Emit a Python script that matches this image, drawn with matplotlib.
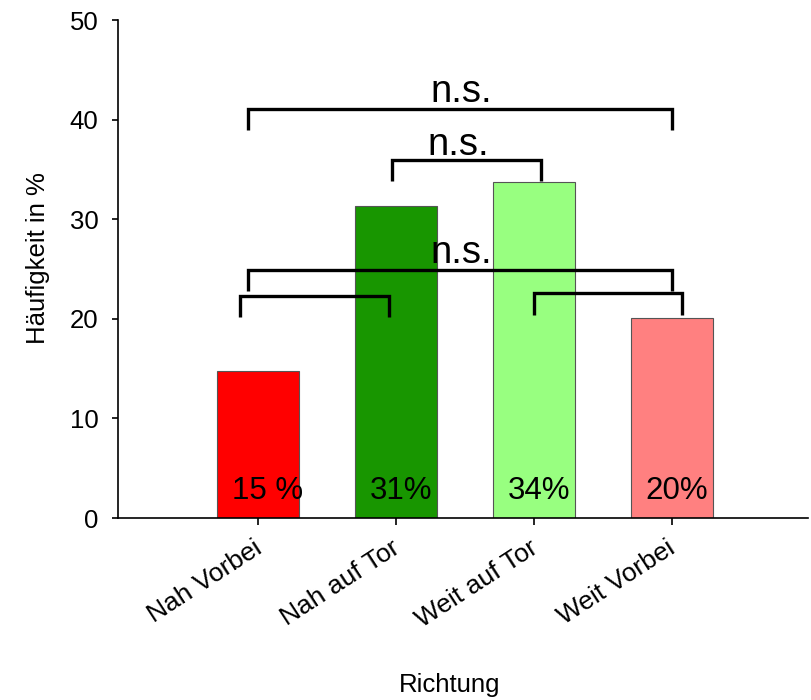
import matplotlib
matplotlib.use("Agg")
import matplotlib.pyplot as plt
from matplotlib.transforms import ScaledTranslation

plt.rcParams['font.family'] = ['Liberation Sans', 'DejaVu Sans']

# --- data ---
categories = ['Nah Vorbei', 'Nah auf Tor', 'Weit auf Tor', 'Weit Vorbei']
values = [14.8, 31.3, 33.7, 20.1]
label_formats = ['{:.0f} %', '{:.0f}%', '{:.0f}%', '{:.0f}%']
bar_colors = ['#ff0000', '#189600', '#98ff80', '#ff8080']

# significance brackets: left x, right x, top y, leg bottom left, leg bottom right
brackets = [
    (-0.07, 3.00, 41.1, 39.0, 39.0),
    (0.97, 2.05, 35.9, 33.8, 33.8),
    (-0.07, 3.00, 24.9, 22.8, 22.8),
    (-0.13, 0.95, 22.3, 20.15, 20.15),
    (2.00, 3.07, 22.55, 20.4, 20.4),
]
# "n.s." labels: x centre, baseline y
ns_labels = [(1.475, 41.8), (1.45, 36.45), (1.475, 25.6)]

# --- plot ---
fig = plt.figure(figsize=(8.12, 7.0), dpi=100)
ax = fig.add_axes([118 / 812, 182 / 700, 690 / 812, 498 / 700])

x = list(range(len(categories)))
ax.bar(x, values, width=0.6, color=bar_colors, edgecolor='#555555',
       linewidth=0.8, zorder=2)

for xi, v, fmt in zip(x, values, label_formats):
    ax.text(xi - 0.19, 1.95, fmt.format(v), ha='left', va='baseline',
            fontsize=22.5, zorder=4)

for x1, x2, yt, yl1, yl2 in brackets:
    ax.plot([x1, x1, x2, x2], [yl1, yt, yt, yl2], color='black', lw=2.4,
            solid_joinstyle='miter', solid_capstyle='butt', zorder=3)

for xc, yb in ns_labels:
    ax.text(xc, yb, 'n.s.', ha='center', va='baseline', fontsize=27.5, zorder=4)

ax.set_xlim(-1.0145, 3.986)
ax.set_ylim(0, 50)
ax.set_yticks([0, 10, 20, 30, 40, 50])
ax.set_xticks(x)
ax.set_xticklabels([])
ax.tick_params(axis='y', labelsize=18.5, length=4, width=1.2, pad=10)
ax.tick_params(axis='x', length=5, width=1.2)

# slanted category names, right end of the baseline just below each tick
lab_trans = ax.get_xaxis_transform() + ScaledTranslation(5 / 100, -34 / 100,
                                                         fig.dpi_scale_trans)
for xi, name in zip(x, categories):
    ax.text(xi, 0, name, transform=lab_trans, rotation=33, ha='right',
            va='baseline', rotation_mode='anchor', fontsize=19)

for side in ['top', 'right']:
    ax.spines[side].set_visible(False)
for side in ['left', 'bottom']:
    ax.spines[side].set_linewidth(1.2)

fig.text(38 / 812, 1 - 258 / 700, 'Häufigkeit in %', rotation=90,
         ha='center', va='center', fontsize=18.5)
fig.text(450 / 812, 1 - 692 / 700, 'Richtung', ha='center', va='baseline',
         fontsize=18.5)

fig.savefig('out.png', dpi=100)
